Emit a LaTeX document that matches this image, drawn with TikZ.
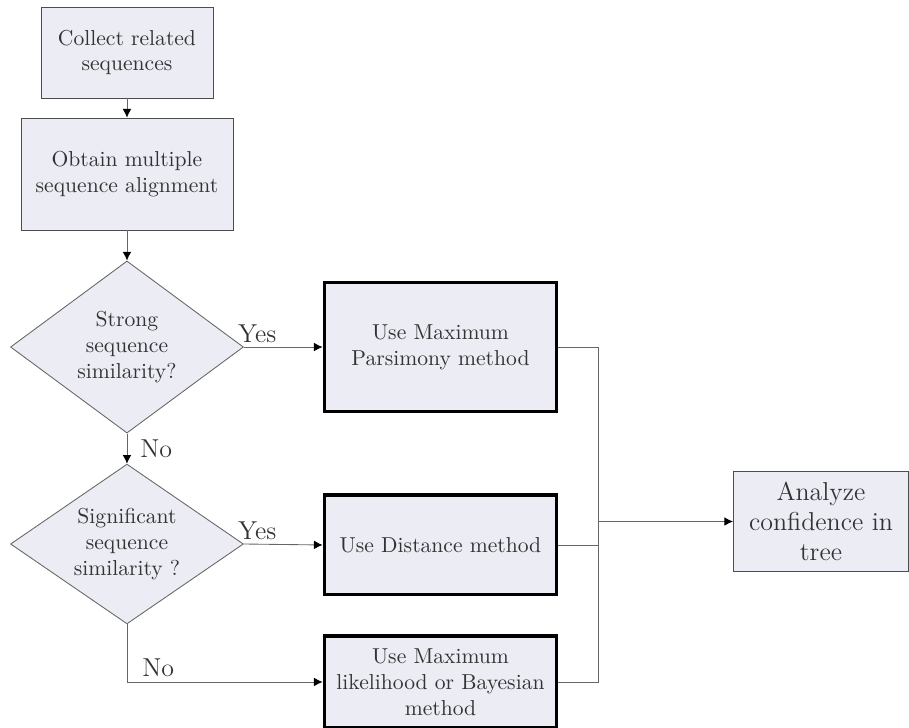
\documentclass[tikz,border=0pt]{standalone}
\usetikzlibrary{shapes.geometric, arrows.meta}

\definecolor{boxfill}{RGB}{236,236,245}
\tikzset{every node/.style={text=black!80}}

\begin{document}
\begin{tikzpicture}[every node/.style={text=black!80, align=center},
	box/.style={rectangle, draw=black!70, fill=boxfill, inner sep=0pt},
	thickbox/.style={rectangle, draw=black, line width=1.6pt, fill=boxfill, inner sep=0pt, minimum width=3.78cm},
	decision/.style={diamond, aspect=1.45, draw=black!60, fill=boxfill, inner sep=0pt, minimum width=3.79cm},
	line/.style={draw=black!60},
	arrow/.style={draw=black!60, -{Latex[length=4pt, width=4pt, color=black]}},
	answer/.style={font=\large, inner sep=2pt}]
			\useasboundingbox (0,0) rectangle (14.79,-11.83);
			
			\node[box, minimum width=2.80cm, minimum height=1.48cm] (B1) at (2.066,-0.854) {Collect related\\sequences};
			\node[box, minimum width=3.45cm, minimum height=1.82cm] (B2) at (2.066,-2.831) {Obtain multiple\\sequence alignment};
			
			\node[decision, minimum height=2.80cm] (D1) at (2.066,-5.646) {Strong\\sequence\\similarity?};
			\node[decision, minimum height=2.60cm] (D2) at (2.066,-8.851) {Significant\\sequence\\similarity ?};
			
			\node[thickbox, minimum height=2.10cm] (B3) at (7.167,-5.646) {Use Maximum\\Parsimony method};
			\node[thickbox, minimum height=1.62cm] (B4) at (7.167,-8.867) {Use Distance method};
			\node[thickbox, minimum height=1.50cm] (B5) at (7.167,-11.096) {Use Maximum\\likelihood or Bayesian\\method};
			
			\node[box, minimum width=2.85cm, minimum height=1.64cm, font=\large] (B6) at (13.358,-8.485) {Analyze\\confidence in\\tree};
			
			\coordinate (J) at (9.729,-8.485);
			
			\draw[arrow] (B1) -- (B2);
			\draw[arrow] (B2) -- (D1);
			\draw[arrow] (D1) -- node[answer, right, xshift=4pt] {No} (D2);
			\draw[arrow] (D1.east) -- node[answer, pos=0.17, above] {Yes} (B3.west);
			\draw[arrow] (D2.east) -- node[answer, pos=0.17, above] {Yes} (B4.west);
			\draw[arrow] (D2.south) |- node[answer, pos=0.58, above] {No} (B5.west);
			
			\draw[line] (B3.east) -| (J) (B5.east) -| (J);
			\draw[line] (B4.east) -- (B4.east -| J);
			\draw[arrow] (J) -- (B6.west);
		\end{tikzpicture}
\end{document}
